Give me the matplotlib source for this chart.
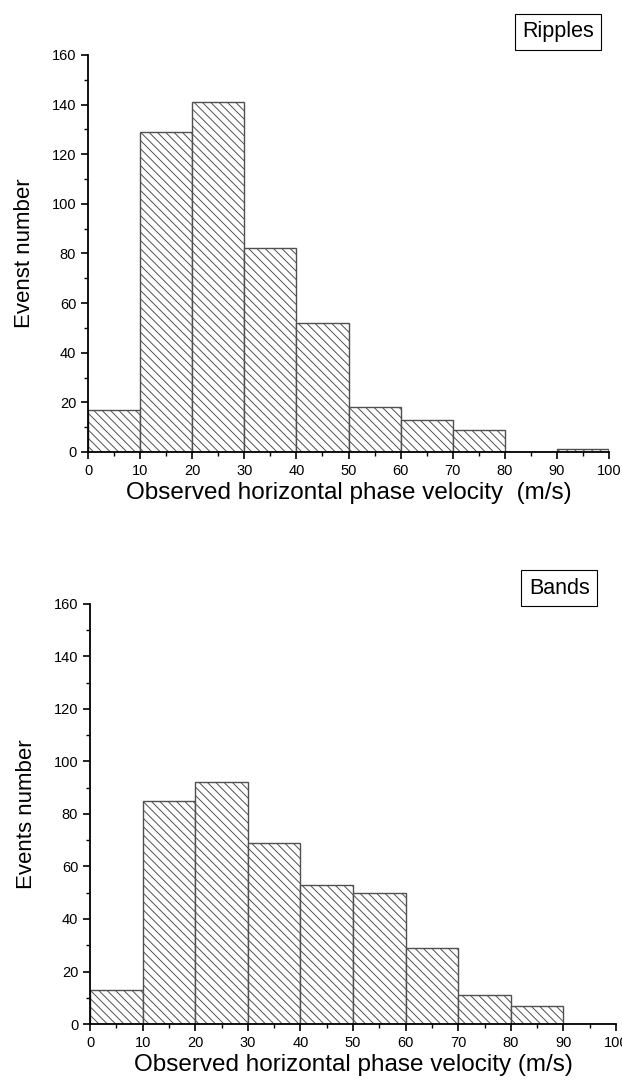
import matplotlib
matplotlib.use("Agg")
import matplotlib.pyplot as plt
from matplotlib.ticker import MultipleLocator

plt.rcParams["font.family"] = ["Liberation Sans", "DejaVu Sans"]
plt.rcParams["hatch.linewidth"] = 0.7

# bin edges (m/s) and counts per 10 m/s bin
BIN_LEFT = [0, 10, 20, 30, 40, 50, 60, 70, 80, 90]
RIPPLES = [17, 129, 141, 82, 52, 18, 13, 9, 0, 1]
BANDS = [13, 85, 92, 69, 53, 50, 29, 11, 7, 0]

PANELS = [
    dict(counts=RIPPLES, tag="Ripples", ylabel="Evenst number",
         xlabel="Observed horizontal phase velocity  (m/s)",
         rect=[0.1415, 0.5823, 0.8376, 0.3669], tag_xy=(0.902, 1.058)),
    dict(counts=BANDS, tag="Bands", ylabel="Events number",
         xlabel="Observed horizontal phase velocity (m/s)",
         rect=[0.1447, 0.0536, 0.8457, 0.3882], tag_xy=(0.892, 1.038)),
]

fig = plt.figure(figsize=(6.22, 10.82), dpi=100)

for p in PANELS:
    ax = fig.add_axes(p["rect"])
    ax.bar(BIN_LEFT, p["counts"], width=10, align="edge", facecolor="white",
           edgecolor="#505050", linewidth=1.0, hatch="\\\\\\\\", zorder=2)
    ax.set_xlim(0, 100)
    ax.set_ylim(0, 160)
    ax.xaxis.set_major_locator(MultipleLocator(10))
    ax.xaxis.set_minor_locator(MultipleLocator(5))
    ax.yaxis.set_major_locator(MultipleLocator(20))
    ax.yaxis.set_minor_locator(MultipleLocator(10))
    for s in ("top", "right"):
        ax.spines[s].set_visible(False)
    for s in ("left", "bottom"):
        ax.spines[s].set_linewidth(1.3)
        ax.spines[s].set_zorder(3)
    ax.tick_params(which="major", direction="out", length=5, width=1.2,
                   labelsize=10.5)
    ax.tick_params(which="minor", direction="out", length=3, width=1.0)
    ax.set_xlabel(p["xlabel"], fontsize=17.5, labelpad=3)
    ax.set_ylabel(p["ylabel"], fontsize=16, labelpad=12)
    ax.text(*p["tag_xy"], p["tag"], transform=ax.transAxes, ha="center",
            va="center", fontsize=15.5,
            bbox=dict(boxstyle="square,pad=0.35", facecolor="white",
                      edgecolor="black", linewidth=0.8))

fig.savefig("out.png", dpi=100)
